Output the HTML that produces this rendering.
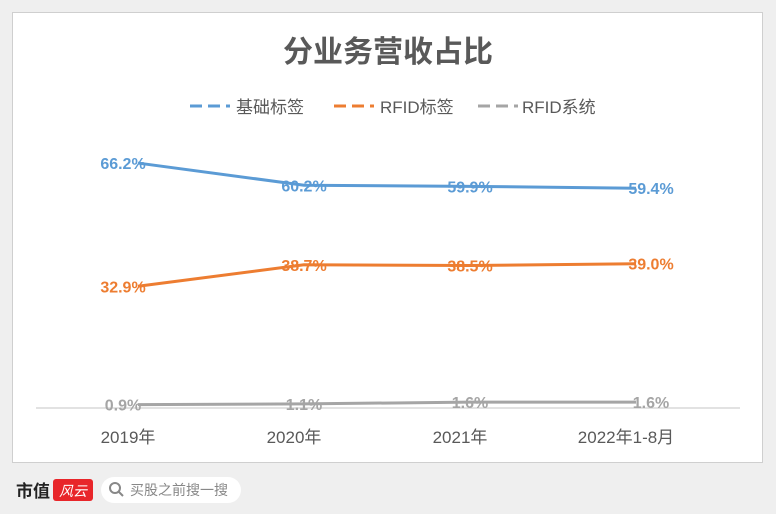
<!DOCTYPE html>
<html><head><meta charset="utf-8"><style>
body{margin:0;width:776px;height:514px;background:#efefef;font-family:"Liberation Sans","Noto Sans CJK SC",sans-serif;position:relative;overflow:hidden}
#panel{position:absolute;left:12px;top:12px;width:749px;height:449px;background:#fff;border:1px solid #cfcfcf}
svg text{font-family:"Liberation Sans","Noto Sans CJK SC",sans-serif}
</style></head><body>
<div id="panel"></div>
<svg width="776" height="514" style="position:absolute;left:0;top:0" id="chart">
<text x="388" y="62" text-anchor="middle" font-size="30" font-weight="bold" fill="#595959">分业务营收占比</text>
<g>
<line x1="190" y1="106" x2="230" y2="106" stroke="#5b9bd5" stroke-width="3" stroke-dasharray="12,6"/>
<text x="236" y="113" font-size="17" fill="#595959">基础标签</text>
<line x1="334" y1="106" x2="374" y2="106" stroke="#ed7d31" stroke-width="3" stroke-dasharray="12,6"/>
<text x="380" y="113" font-size="17" fill="#595959">RFID标签</text>
<line x1="478" y1="106" x2="518" y2="106" stroke="#a5a5a5" stroke-width="3" stroke-dasharray="12,6"/>
<text x="522" y="113" font-size="17" fill="#595959">RFID系统</text>
</g>
<line x1="36" y1="408" x2="740" y2="408" stroke="#d9d9d9" stroke-width="1.5"/>
<g id="marks"></g>
<g>
<text x="16" y="497" font-size="17" font-weight="bold" fill="#222" font-family="Liberation Serif">市值</text>
<rect x="53" y="479" width="40" height="22" rx="3" fill="#e8262a"/>
<text x="73" y="496" font-size="14" fill="#fff" text-anchor="middle" font-style="italic">风云</text>
<rect x="101" y="477" width="140" height="26" rx="13" fill="#fff"/>
<circle cx="115" cy="488" r="5" fill="none" stroke="#888" stroke-width="2"/>
<line x1="119" y1="492" x2="123" y2="496" stroke="#888" stroke-width="2"/>
<text x="130" y="495" font-size="14" fill="#888">买股之前搜一搜</text>
</g>
</svg>
<script>
const categories=["2019年","2020年","2021年","2022年1-8月"];
const basic=[66.2,60.2,59.9,59.4];
const rfidTag=[32.9,38.7,38.5,39.0];
const rfidSys=[0.9,1.1,1.6,1.6];
const NS="http://www.w3.org/2000/svg";
const g=document.getElementById('marks');
function xS(i){return 138+i*166;}
function yS(v){return 408-v*3.7;}
const labelDx=[-15,0,0,15];
function mk(tag,attrs){const e=document.createElementNS(NS,tag);for(const k in attrs)e.setAttribute(k,attrs[k]);g.appendChild(e);return e;}
categories.forEach((c,i)=>{
 const t=mk('text',{x:xS(i)-10,y:443,'text-anchor':'middle','font-size':17,fill:'#595959'});
 t.textContent=c;
 
 
});
[[basic,'#5b9bd5','basic'],[rfidTag,'#ed7d31','rfid-tag'],[rfidSys,'#a5a5a5','rfid-system']].forEach(([d,col,nm])=>{
 const p=mk('polyline',{points:d.map((v,i)=>xS(i)+','+yS(v)).join(' '),fill:'none',stroke:col,'stroke-width':3});
 
 
 d.forEach((v,i)=>{
  const t=mk('text',{x:xS(i)+labelDx[i],y:yS(v)+6,'text-anchor':'middle','font-size':16,'font-weight':'bold',fill:col});
  t.textContent=v.toFixed(1)+'%';
  
  
 });
});
</script>
</body></html>
